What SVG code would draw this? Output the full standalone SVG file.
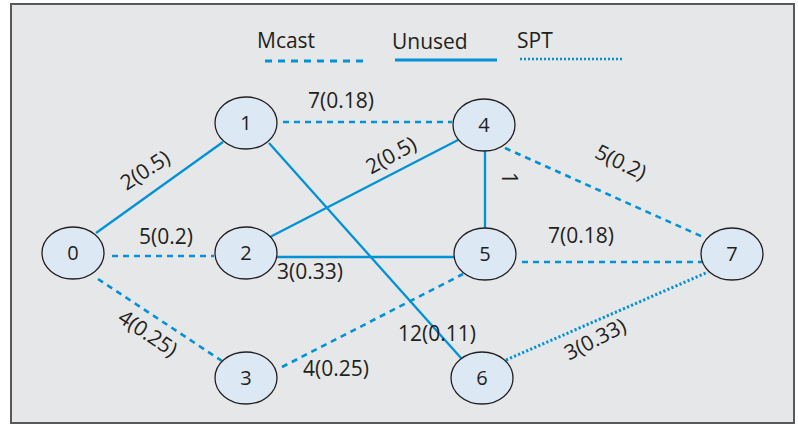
<svg xmlns="http://www.w3.org/2000/svg" width="798" height="425" viewBox="0 0 798 425">
  <defs>
    <style>
      .frame { fill: #e6e7e8; stroke: #58595b; stroke-width: 2; }
      .node ellipse { fill: #dde8f5; stroke: #231f20; stroke-width: 1.3; }
      .node text { font-family: "Open Sans", "Liberation Sans", sans-serif; font-size: 20px; fill: #231f20; text-anchor: middle; }
      .lbl { font-family: "Open Sans", "Liberation Sans", sans-serif; font-size: 21px; fill: #231f20; }
      .mid { text-anchor: middle; }
      .edge { fill: none; stroke: #0092d6; }
      .solid { stroke-width: 2.3; }
      .dash { stroke-width: 2.6; stroke-dasharray: 6 5; }
      .dot { stroke-width: 3; stroke-dasharray: 2.2 2.2; }
    </style>
  </defs>

  <rect class="frame" x="11" y="4" width="783" height="419"/>

  <!-- legend -->
  <g id="legend">
    <text class="lbl" x="257" y="48">Mcast</text>
    <line class="edge" x1="265" y1="61" x2="364" y2="61" stroke-width="3" stroke-dasharray="7 6"/>
    <text class="lbl" x="392" y="49">Unused</text>
    <line class="edge" x1="395" y1="60" x2="497" y2="60" stroke-width="3"/>
    <text class="lbl" x="517" y="48">SPT</text>
    <line class="edge" x1="520" y1="59" x2="622" y2="59" stroke-width="2.4" stroke-dasharray="2 2"/>
  </g>

  <!-- connectors -->
  <g id="connectors">
    <line class="edge solid" x1="96" y1="233" x2="223" y2="142"/>
    <line class="edge dash" x1="112" y1="256" x2="214" y2="256"/>
    <line class="edge dash" x1="98" y1="279" x2="222" y2="361"/>
    <line class="edge dash" x1="283" y1="122" x2="452" y2="122"/>
    <line class="edge solid" x1="269" y1="143" x2="461" y2="358"/>
    <line class="edge solid" x1="270" y1="237" x2="458" y2="140"/>
    <line class="edge solid" x1="277" y1="257" x2="454" y2="257"/>
    <line class="edge solid" x1="485" y1="151" x2="485" y2="228"/>
    <line class="edge dash" x1="505" y1="148" x2="703" y2="237"/>
    <line class="edge dash" x1="522" y1="262" x2="702" y2="262"/>
    <line class="edge dash" x1="282" y1="367" x2="463" y2="274"/>
    <line class="edge dot" x1="506" y1="360" x2="708" y2="272"/>
  </g>

  <!-- edge labels -->
  <g id="edge-labels">
    <text class="lbl" x="308" y="108">7(0.18)</text>
    <text class="lbl mid" transform="translate(145,170) rotate(-33)" y="7.5">2(0.5)</text>
    <text class="lbl" x="139" y="244">5(0.2)</text>
    <text class="lbl" x="277" y="279">3(0.33)</text>
    <text class="lbl mid" transform="translate(148,333) rotate(34)" y="7.5">4(0.25)</text>
    <text class="lbl" x="303" y="376">4(0.25)</text>
    <text class="lbl mid" transform="translate(391,155) rotate(-29)" y="7.5">2(0.5)</text>
    <text class="lbl mid" transform="translate(509,178) rotate(90)" y="7.5">1</text>
    <text class="lbl mid" transform="translate(621,162) rotate(26)" y="7.5">5(0.2)</text>
    <text class="lbl" x="548" y="243">7(0.18)</text>
    <text class="lbl" x="398" y="341">12(0.11)</text>
    <text class="lbl mid" transform="translate(595,339) rotate(-27)" y="7.5">3(0.33)</text>
  </g>

  <!-- nodes -->
  <g id="node-0" class="node"><ellipse cx="73" cy="253" rx="31" ry="26"/><text x="73" y="260">0</text></g>
  <g id="node-1" class="node"><ellipse cx="246" cy="123" rx="31" ry="26"/><text x="246" y="130">1</text></g>
  <g id="node-2" class="node"><ellipse cx="246" cy="253" rx="31" ry="26"/><text x="246" y="260">2</text></g>
  <g id="node-3" class="node"><ellipse cx="246" cy="378" rx="31" ry="26"/><text x="246" y="385">3</text></g>
  <g id="node-4" class="node"><ellipse cx="484" cy="125" rx="31" ry="26"/><text x="484" y="132">4</text></g>
  <g id="node-5" class="node"><ellipse cx="485" cy="254" rx="31" ry="26"/><text x="485" y="261">5</text></g>
  <g id="node-6" class="node"><ellipse cx="482" cy="378" rx="31" ry="26"/><text x="482" y="385">6</text></g>
  <g id="node-7" class="node"><ellipse cx="732" cy="254" rx="31" ry="26"/><text x="732" y="261">7</text></g>
</svg>
